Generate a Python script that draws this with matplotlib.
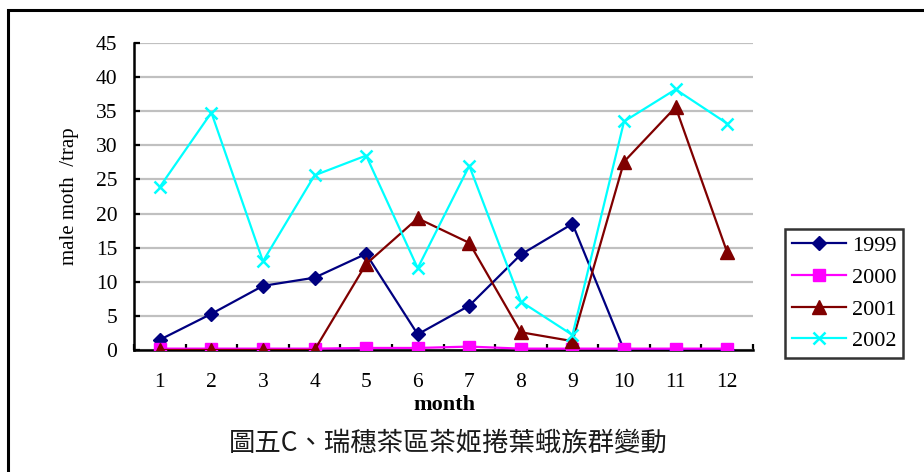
import matplotlib
matplotlib.use("Agg")
import matplotlib.pyplot as plt
from matplotlib.patches import Rectangle

months = [1, 2, 3, 4, 5, 6, 7, 8, 9, 10, 11, 12]
y1999 = [1.5, 5.3, 9.4, 10.6, 14.1, 2.3, 6.5, 14.0, 18.5, 0, 0, 0]
y2000 = [0.2, 0.2, 0.2, 0.2, 0.3, 0.3, 0.5, 0.2, 0.2, 0.2, 0.2, 0.2]
y2001 = [0, 0, 0, 0, 12.6, 19.3, 15.7, 2.6, 1.3, 27.6, 35.6, 14.3]
y2002 = [23.9, 34.8, 13.0, 25.6, 28.5, 12.0, 27.0, 7.1, 2.2, 33.5, 38.2, 33.2]
y_ticks = [0, 5, 10, 15, 20, 25, 30, 35, 40, 45]

serif = ["Liberation Serif", "DejaVu Serif"]
cjk = ["Noto Sans CJK TC", "DejaVu Sans"]

fig = plt.figure(figsize=(9.24, 4.72), dpi=100)

# outer frame around the figure
fig.add_artist(Rectangle((8 / 924, -0.05), 1.05, 1 - 10 / 472 + 0.05,
                         transform=fig.transFigure, fill=False,
                         edgecolor="black", linewidth=2.2))

ax = fig.add_axes([134 / 924, 1 - 350 / 472, (753 - 134) / 924, (350 - 43) / 472])

ax.plot(months, y1999, color="#000080", marker="D", markersize=7.5, linewidth=1.6, label="1999", zorder=3)
ax.plot(months, y2000, color="#ff00ff", marker="s", markersize=9, linewidth=1.6, label="2000", zorder=4)
ax.plot(months, y2001, color="#800000", marker="^", markersize=10, linewidth=1.6, label="2001", zorder=5)
ax.plot(months, y2002, color="#00ffff", marker="x", markersize=8, markeredgewidth=1.8,
        linewidth=1.6, label="2002", zorder=6)

ax.set_xlim(0.5, 12.5)
ax.set_ylim(0, 45)
ax.set_yticks(y_ticks)
ax.yaxis.grid(True, color="#c0c0c0", linewidth=1.6)
ax.set_axisbelow(True)
for s in ("top", "right"):
    ax.spines[s].set_visible(False)
ax.spines["left"].set_linewidth(1.8)
ax.spines["bottom"].set_linewidth(1.8)

ax.set_xticks(months)
ax.set_xticks([m + 0.5 for m in [0] + months], minor=True)
ax.tick_params(axis="x", which="major", length=0, pad=16.5)
ax.tick_params(axis="x", which="minor", length=4, width=1.6, direction="in")
ax.tick_params(axis="y", length=4, width=1.6, direction="in", pad=12)
for lab in ax.get_xticklabels() + ax.get_yticklabels():
    lab.set_family(serif)
    lab.set_fontsize(15.5)

# axis titles placed in figure pixels below / left of the plot area
fig.text(444 / 924, 1 - 405 / 472, "month", family=serif, fontsize=16,
         fontweight="bold", ha="center", va="center")
ax.set_ylabel("male moth  /trap", family=serif, fontsize=15, labelpad=12)

leg = fig.legend(loc="upper left", bbox_to_anchor=(785 / 924, 1 - 229 / 472),
                 prop={"family": serif, "size": 16}, frameon=True, fancybox=False,
                 edgecolor="black", borderpad=0.3, handlelength=2.45, handletextpad=0.25,
                 labelspacing=0.5, borderaxespad=0)
leg.get_frame().set_linewidth(1.8)

fig.text(448 / 924, 1 - 443 / 472, "圖五C、瑞穗茶區茶姬捲葉蛾族群變動",
         family=cjk, fontsize=19, ha="center", va="center", color="#1a1a1a")

fig.savefig("out.png", dpi=100)
